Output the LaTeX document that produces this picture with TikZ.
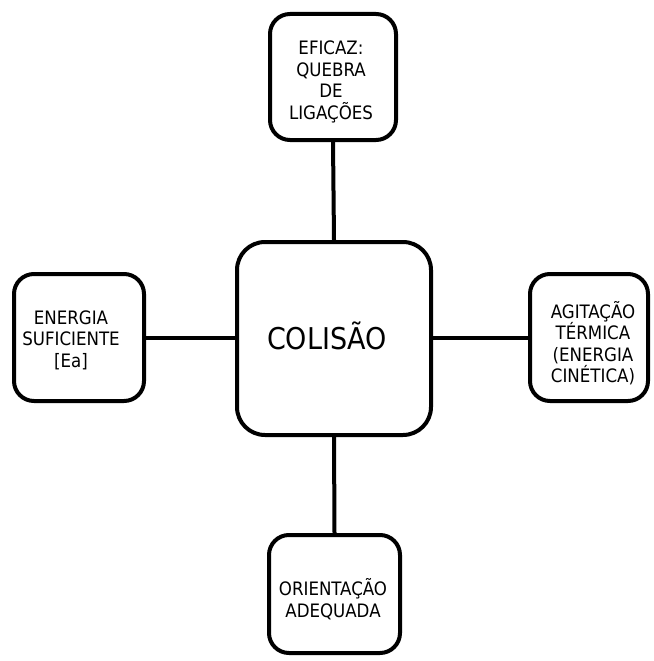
\documentclass[tikz,border=0pt]{standalone}
\usepackage{fontspec}
\setmainfont{DejaVu Sans Condensed}
\begin{document}
\begin{tikzpicture}[x=1pt,y=-1pt,
  box/.style={draw=black,line width=4pt,rounded corners=20pt,fill=white,inner sep=0pt},
  bigbox/.style={box,rounded corners=28pt},
  lbl/.style={align=center,font=\fontsize{18.5}{21.5}\selectfont,inner sep=0pt},
  biglbl/.style={font=\fontsize{30}{34}\selectfont,inner sep=0pt},
  conn/.style={line width=4pt}]
\useasboundingbox (0,0) rectangle (653,661);
\node[bigbox,minimum width=194pt,minimum height=193pt] (c) at (334,338.5) {};
\node[box,minimum width=126pt,minimum height=126pt] (t) at (333,77) {};
\node[box,minimum width=130pt,minimum height=127pt] (l) at (79,337.5) {};
\node[box,minimum width=118pt,minimum height=127pt] (r) at (589,337.5) {};
\node[box,minimum width=131pt,minimum height=118pt] (b) at (334.5,594) {};
\draw[conn] (t.south) -- (c.north);
\draw[conn] (l.east) -- (l.east -| c.west);
\draw[conn] (r.west -| c.east) -- (r.west);
\draw[conn] (c.south) -- (b.north);
\node[biglbl] (ct) at (327,336) {COLISÃO};
\node[lbl] (tt) at (331,82) {EFICAZ:\\QUEBRA\\DE\\LIGAÇÕES};
\node[lbl] (lt) at (71,340) {ENERGIA\\SUFICIENTE\\{}[Ea]};
\node[lbl] (rt) at (593,343) {AGITAÇÃO\\TÉRMICA\\(ENERGIA\\CINÉTICA)};
\node[lbl] (bt) at (333,599) {ORIENTAÇÃO\\ADEQUADA};
\end{tikzpicture}
\end{document}
